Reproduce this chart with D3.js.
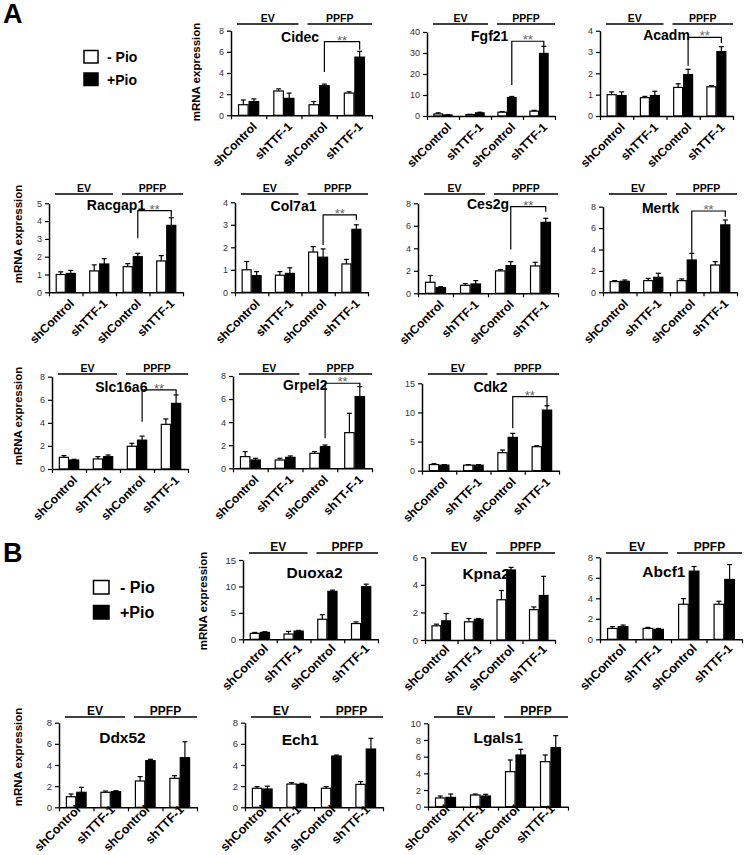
<!DOCTYPE html>
<html><head><meta charset="utf-8">
<script src="https://cdn.jsdelivr.net/npm/d3@7"></script>
<style>
body{margin:0;background:#fff}
svg{display:block}
text{font-family:"Liberation Sans",Arial,Helvetica,sans-serif}
</style>
</head><body>
<svg id="chart" width="745" height="855"></svg>
<script>
// ---------------- DATA ----------------
const categories = ["shControl", "shTTF-1", "shControl", "shTTF-1"];
const grpelCategories = ["shControl", "shTTF-1", "shControl", "shTT-F-1"];
const groupLabels = ["EV", "PPFP"];
const seriesLabels = ["- Pio", "+Pio"];
const yLabel = "mRNA expression";
const sigLabel = "**";

const genes = ["Cidec","Fgf21","Acadm","Racgap1","Col7a1","Ces2g","Mertk","Slc16a6","Grpel2","Cdk2",
               "Duoxa2","Kpna2","Abcf1","Ddx52","Ech1","Lgals1"];
const yMax  = [8, 40, 4, 5, 4, 8, 8, 8, 8, 15, 15, 6, 8, 8, 8, 10];
const yStep = [2, 10, 1, 1, 1, 2, 2, 2, 2, 5, 5, 2, 2, 2, 2, 2];

// mean values (-Pio / +Pio) and error bars per category
const cidecMinus = [1.0, 2.3, 1.0, 2.1],   cidecMinusErr = [0.45, 0.2, 0.3, 0.12];
const cidecPlus  = [1.3, 1.6, 2.8, 5.5],   cidecPlusErr  = [0.25, 0.5, 0.15, 0.55];
const fgf21Minus = [1.0, 0.7, 1.8, 2.3],   fgf21MinusErr = [0.5, 0.1, 0.3, 0.4];
const fgf21Plus  = [0.5, 1.5, 8.8, 29.8],  fgf21PlusErr  = [0.1, 0.3, 0.5, 3.4];
const acadmMinus = [1.0, 0.86, 1.34, 1.37], acadmMinusErr = [0.13, 0.06, 0.17, 0.05];
const acadmPlus  = [0.96, 0.96, 1.94, 3.02], acadmPlusErr = [0.17, 0.2, 0.25, 0.23];
const racgap1Minus = [1.0, 1.2, 1.44, 1.76], racgap1MinusErr = [0.15, 0.34, 0.17, 0.3];
const racgap1Plus  = [1.06, 1.59, 2.0, 3.76], racgap1PlusErr = [0.17, 0.3, 0.19, 0.43];
const col7a1Minus = [1.0, 0.76, 1.79, 1.26], col7a1MinusErr = [0.37, 0.16, 0.24, 0.2];
const col7a1Plus  = [0.74, 0.84, 1.56, 2.8], col7a1PlusErr  = [0.18, 0.25, 0.37, 0.2];
const ces2gMinus = [0.98, 0.71, 1.99, 2.43], ces2gMinusErr = [0.6, 0.15, 0.11, 0.33];
const ces2gPlus  = [0.5, 0.83, 2.46, 6.31],  ces2gPlusErr  = [0.09, 0.3, 0.35, 0.36];
const mertkMinus = [1.0, 1.09, 1.09, 2.55], mertkMinusErr = [0.09, 0.21, 0.16, 0.32];
const mertkPlus  = [1.03, 1.4, 3.02, 6.3],  mertkPlusErr  = [0.12, 0.38, 0.62, 0.46];
const slc16a6Minus = [1.01, 0.87, 1.97, 3.87], slc16a6MinusErr = [0.15, 0.2, 0.26, 0.47];
const slc16a6Plus  = [0.78, 1.07, 2.5, 5.69],  slc16a6PlusErr  = [0.06, 0.14, 0.35, 0.73];
const grpel2Minus = [1.01, 0.72, 1.3, 3.09], grpel2MinusErr = [0.44, 0.15, 0.15, 1.68];
const grpel2Plus  = [0.72, 0.95, 1.88, 6.21], grpel2PlusErr = [0.15, 0.12, 0.14, 0.87];
const cdk2Minus = [1.05, 0.95, 3.09, 4.12], cdk2MinusErr = [0.15, 0.1, 0.46, 0.17];
const cdk2Plus  = [0.95, 0.95, 5.72, 10.4], cdk2PlusErr  = [0.1, 0.1, 0.69, 0.76];
const duoxa2Minus = [1.12, 1.0, 3.79, 2.98], duoxa2MinusErr = [0.18, 0.5, 0.87, 0.31];
const duoxa2Plus  = [1.3, 1.55, 9.07, 9.94], duoxa2PlusErr  = [0.13, 0.13, 0.23, 0.49];
const kpna2Minus = [1.03, 1.32, 2.92, 2.2],  kpna2MinusErr = [0.12, 0.24, 0.67, 0.2];
const kpna2Plus  = [1.39, 1.5, 5.08, 3.23],  kpna2PlusErr  = [0.53, 0.06, 0.19, 1.39];
const abcf1Minus = [1.06, 1.06, 3.42, 3.42], abcf1MinusErr = [0.17, 0.1, 0.55, 0.29];
const abcf1Plus  = [1.23, 0.97, 6.65, 5.84], abcf1PlusErr  = [0.16, 0.09, 0.45, 1.45];
const ddx52Minus = [1.0, 1.42, 2.49, 2.74], ddx52MinusErr = [0.26, 0.12, 0.41, 0.25];
const ddx52Plus  = [1.42, 1.48, 4.41, 4.69], ddx52PlusErr = [0.47, 0.09, 0.13, 1.51];
const ech1Minus = [1.8, 2.2, 1.8, 2.17],  ech1MinusErr = [0.15, 0.13, 0.15, 0.26];
const ech1Plus  = [1.73, 2.17, 4.85, 5.51], ech1PlusErr = [0.27, 0.1, 0.09, 1.01];
const lgals1Minus = [1.05, 1.4, 4.2, 5.4],  lgals1MinusErr = [0.23, 0.12, 1.4, 0.8];
const lgals1Plus  = [1.12, 1.28, 6.2, 7.08], lgals1PlusErr = [0.4, 0.2, 0.68, 1.44];

// significance brackets (data units): [bracket top, left end, right end]; null = none
const brackets = [[6.96,4.1,6.2],[35.6,14.8,33],[3.69,2.36,3.42],[4.59,3.03,4.25],[3.44,2.1,3.21],
                  [7.7,3.9,7.26],[7.6,3.7,7.07],[6.85,4.1,6.42],[7.37,2.6,7.08],[12.7,7.27,11.0],
                  null,null,null,null,null,null];

const minusVals = [cidecMinus,fgf21Minus,acadmMinus,racgap1Minus,col7a1Minus,ces2gMinus,mertkMinus,slc16a6Minus,grpel2Minus,cdk2Minus,duoxa2Minus,kpna2Minus,abcf1Minus,ddx52Minus,ech1Minus,lgals1Minus];
const minusErrs = [cidecMinusErr,fgf21MinusErr,acadmMinusErr,racgap1MinusErr,col7a1MinusErr,ces2gMinusErr,mertkMinusErr,slc16a6MinusErr,grpel2MinusErr,cdk2MinusErr,duoxa2MinusErr,kpna2MinusErr,abcf1MinusErr,ddx52MinusErr,ech1MinusErr,lgals1MinusErr];
const plusVals = [cidecPlus,fgf21Plus,acadmPlus,racgap1Plus,col7a1Plus,ces2gPlus,mertkPlus,slc16a6Plus,grpel2Plus,cdk2Plus,duoxa2Plus,kpna2Plus,abcf1Plus,ddx52Plus,ech1Plus,lgals1Plus];
const plusErrs = [cidecPlusErr,fgf21PlusErr,acadmPlusErr,racgap1PlusErr,col7a1PlusErr,ces2gPlusErr,mertkPlusErr,slc16a6PlusErr,grpel2PlusErr,cdk2PlusErr,duoxa2PlusErr,kpna2PlusErr,abcf1PlusErr,ddx52PlusErr,ech1PlusErr,lgals1PlusErr];

// ---------------- LAYOUT ----------------
// [x0, x1, yTop, yZero, groupLineY, titleFrac, titleBaselineOffset, big, labelDx, labelDy]
const layout = [
  [231,372,30.7,115.3,24, 0.49,11,0, 9,12],[427,555,32,116,24, 0.49,9,0, 9,12],[600,733,30.7,116,24, 0.50,9,0, 9,12],
  [49,183,203.3,292.3,194, 0.50,7,0, 9,12],[235,368,202.3,292.3,194, 0.44,9,0, 9,12],[418,558,203.3,293.3,194, 0.50,6,0, 9,12],[603,737,206.7,292.3,194, 0.43,6,0, 9,12],
  [52,188,376.7,469,374, 0.51,15,0, 9,12],[233,372,376,468.3,374, 0.52,14,0, 9,12],[422,559,383.3,470.7,374, 0.50,9,0, 9,12],
  [243,378,560,639.3,553, 0.53,18,1, 9,10],[425,555,557.3,640,553, 0.47,22,1, 9,10],[600,742,557.3,639.3,553, 0.45,20,1, 9,10],
  [59,197,722.7,807.3,717, 0.46,20,1, 5,3],[245,383,722.7,807.3,717, 0.40,22,1, 5,3],[428,568,723.3,806.7,717, 0.50,20,1, 5,3]
];
const yLabelPos = [[196,72],[18,234],[18,416],[203,601],[18,757]];
const font = '"Liberation Sans",Arial,sans-serif';

const svg = d3.select("#chart");

// panel letters
svg.append("text").attr("x",3).attr("y",23).attr("font-size",27).attr("font-weight","bold").text("A");
svg.append("text").attr("x",3).attr("y",562).attr("font-size",27).attr("font-weight","bold").text("B");

// legends
function legend(x, y, sq, h, gap, fs, tx) {
  const g = svg.append("g");
  seriesLabels.forEach((s,i) => {
    g.append("rect").attr("x",x).attr("y",y + i*gap).attr("width",sq).attr("height",h)
      .attr("fill", i ? "#000" : "#fff").attr("stroke","#000").attr("stroke-width",1.5);
    g.append("text").attr("x",tx).attr("y",y + i*gap + h - 1).attr("font-size",fs)
      .attr("font-weight","bold").text(s);
  });
}
legend(84, 50.5, 14, 12.5, 22.5, 14, 107);
legend(93.5, 580.5, 15.5, 13.5, 25, 16, 120);

// y labels
yLabelPos.forEach(([x,y]) => {
  svg.append("text").attr("transform",`translate(${x+4},${y}) rotate(-90)`)
    .attr("text-anchor","middle").attr("font-size",11.5).attr("font-weight","bold").text(yLabel);
});

genes.forEach((gene, gi) => {
  const [x0,x1,yTop,yZero,lineY,tFrac,tOff,big,lDx,lDy] = layout[gi];
  const g = svg.append("g");
  const y = d3.scaleLinear().domain([0, yMax[gi]]).range([yZero, yTop]);
  const x = d3.scaleBand().domain(d3.range(4)).range([x0, x1]).padding(0);
  const step = x.step();
  const bw = step * 0.3;
  const xs = d3.scaleBand().domain([0,1]).range([0, 2*bw]);
  const cats = gene === "Grpel2" ? grpelCategories : categories;

  // bars & error bars
  [[minusVals[gi], minusErrs[gi]], [plusVals[gi], plusErrs[gi]]].forEach(([vals, errs], si) => {
    vals.forEach((v, ci) => {
      const bx = x(ci) + step/2 - bw + xs(si);
      const cx = bx + bw/2;
      const top = y(v + errs[ci]);
      g.append("line").attr("x1",cx).attr("x2",cx).attr("y1",y(v)).attr("y2",top)
        .attr("stroke","#000").attr("stroke-width",1.2);
      g.append("line").attr("x1",cx-2.5).attr("x2",cx+2.5).attr("y1",top).attr("y2",top)
        .attr("stroke","#000").attr("stroke-width",1.2);
      g.append("rect").attr("x",bx+0.5).attr("y",y(v)).attr("width",bw-1).attr("height",yZero - y(v))
        .attr("fill", si ? "#000" : "#fff").attr("stroke","#000").attr("stroke-width",1.2);
    });
  });

  // y axis
  const ticks = d3.range(0, yMax[gi] + 1e-9, yStep[gi]);
  const ya = g.append("g").attr("transform",`translate(${x0},0)`)
    .call(d3.axisLeft(y).tickValues(ticks).tickFormat(d3.format("d")).tickSize(4).tickSizeOuter(0).tickPadding(3));
  ya.select(".domain").attr("stroke","#000").attr("stroke-width",1.5);
  ya.selectAll(".tick line").attr("stroke","#000").attr("stroke-width",1.2);
  ya.selectAll(".tick text").attr("font-family",font).attr("font-size",big ? 9.5 : 9).attr("fill","#333");

  // x axis (boundary ticks)
  const xb = d3.scaleLinear().domain([0,4]).range([x0,x1]);
  const xa = g.append("g").attr("transform",`translate(0,${yZero})`)
    .call(d3.axisBottom(xb).tickValues([0,1,2,3,4]).tickSize(4).tickSizeOuter(0).tickFormat(""));
  xa.select(".domain").attr("stroke","#000").attr("stroke-width",1.5);
  xa.selectAll(".tick line").attr("stroke","#000").attr("stroke-width",1.2);

  // category labels
  cats.forEach((c, ci) => {
    const cx = x(ci) + step/2 + lDx;
    g.append("text").attr("transform",`translate(${cx},${yZero+lDy}) rotate(-45)`)
      .attr("text-anchor","end").attr("font-size",big ? 12.5 : 12).attr("font-weight","bold").text(c);
  });

  // EV / PPFP group lines
  const mid = (x0 + x1) / 2;
  const spans = [[x0+6, mid-3], [mid+6, x1]];
  spans.forEach(([a,b], k) => {
    g.append("line").attr("x1",a).attr("x2",b).attr("y1",lineY).attr("y2",lineY)
      .attr("stroke","#000").attr("stroke-width",1.5);
    g.append("text").attr("x",(a+b)/2).attr("y",lineY-2.5).attr("text-anchor","middle")
      .attr("font-size",big ? 12 : 10.5).attr("font-weight","bold").text(groupLabels[k]);
  });

  // title
  g.append("text").attr("x", x0 + tFrac*(x1-x0)).attr("y", yTop + tOff).attr("text-anchor","middle")
    .attr("font-size", big ? 15.5 : 14).attr("font-weight","bold").text(gene);

  // significance bracket
  const br = brackets[gi];
  if (br) {
    const lx = x(2) + step/2 + bw/2, rx = x(3) + step/2 + bw/2;
    g.append("path").attr("d",`M${lx},${y(br[1])}V${y(br[0])}H${rx}V${y(br[2])}`)
      .attr("fill","none").attr("stroke","#000").attr("stroke-width",1.2);
    g.append("text").attr("x",(lx+rx)/2).attr("y",y(br[0])+3).attr("text-anchor","middle")
      .attr("font-size",13).attr("fill","#666").text(sigLabel);
  }
});
</script>
</body></html>
